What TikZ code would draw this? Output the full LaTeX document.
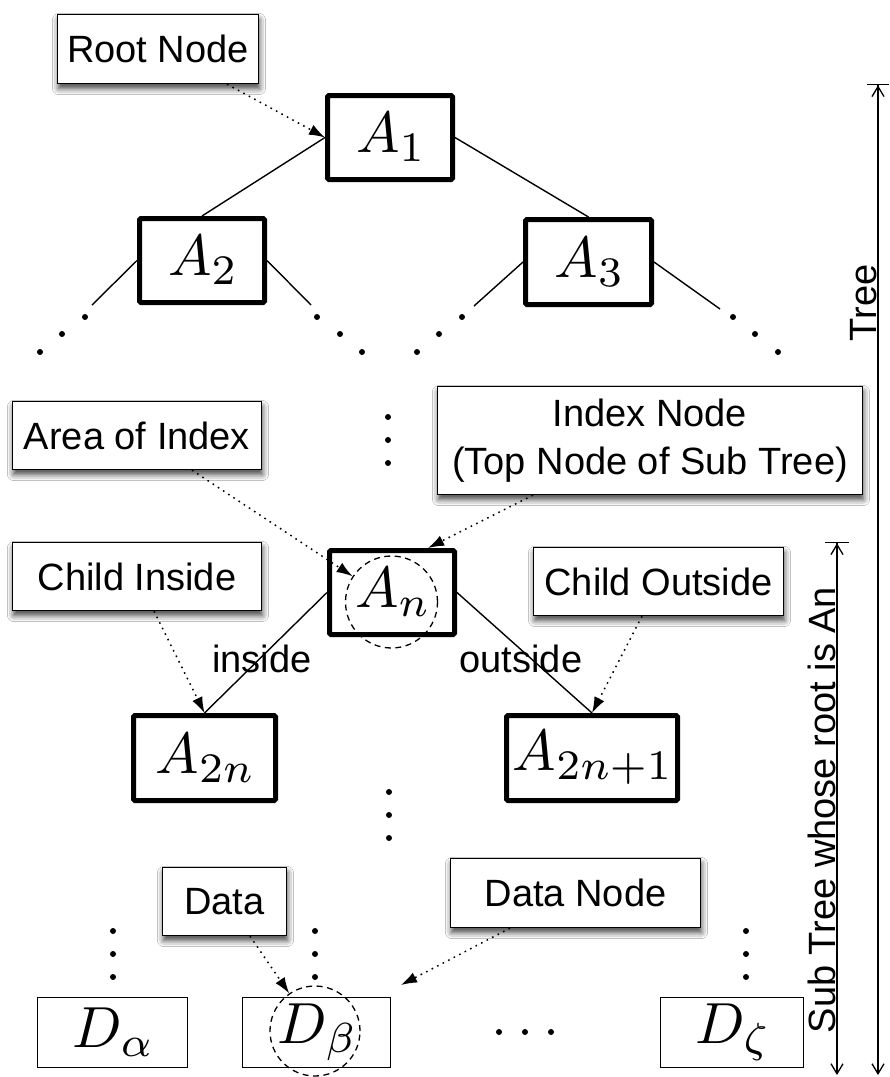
\RequirePackage{fix-cm}
\documentclass[tikz,border=0pt]{standalone}
\usepackage[no-math]{fontspec}
\newfontfamily\labfont{Liberation Sans}
\DeclareFontShape{OML}{cmm}{m}{it}{<-50> cmmi7 <50-> cmmi10}{}
\DeclareFontShape{OT1}{cmr}{m}{n}{<-50> cmr7 <50-> cmr10}{}
\DeclareFontShape{OMS}{cmsy}{m}{n}{<-50> cmsy7 <50-> cmsy10}{}
\DeclareMathSizes{58}{58}{42}{30}
\usetikzlibrary{arrows.meta,shadows.blur}
\begin{document}
\begin{tikzpicture}[x=1pt,y=-1pt,
  abox/.style={draw, line width=5pt, rounded corners=1.5pt, inner sep=0pt, font=\fontsize{58}{60}\selectfont},
  lbox/.style={draw, line width=1.3pt, fill=white, inner sep=0pt, font=\labfont\fontsize{38}{48}\selectfont,
    blur shadow={shadow xshift=1pt, shadow yshift=-5pt, shadow blur radius=6pt, shadow opacity=75}},
  dbox/.style={draw, line width=1.3pt, inner sep=0pt, font=\fontsize{58}{60}\selectfont},
  treeline/.style={line width=1.4pt},
  pointer/.style={line width=1.5pt, dash pattern=on 1.6pt off 4.6pt, -{Latex[length=16pt,width=11pt]}},
  ring/.style={circle, draw, line width=1.3pt, dash pattern=on 6pt off 4.5pt, inner sep=0pt},
  dimline/.style={line width=1.3pt},
  lab/.style={font=\labfont\fontsize{38}{48}\selectfont, inner sep=0pt},
]
\useasboundingbox[fill=white] (0,0) rectangle (890,1077);

% tree nodes
\node[abox, minimum width=125pt, minimum height=84pt] (A1) at (390,137.5) {$A_1$};
\node[abox, minimum width=125pt, minimum height=84pt] (A2) at (202,260.5) {$A_2$};
\node[abox, minimum width=126pt, minimum height=85pt] (A3) at (588.5,262) {$A_3$};
\node[abox, minimum width=125pt, minimum height=84pt] (An) at (392,592.5) {$A_n$};
\node[abox, minimum width=142pt, minimum height=85pt] (A2n) at (204.5,758) {$A_{2n}$};
\node[abox, minimum width=171pt, minimum height=85pt] (A2n1) at (592,758) {$A_{2n+1}$};

% data nodes
\node[dbox, minimum width=150pt, minimum height=70pt] (Da) at (112.5,1032.5) {$D_\alpha$};
\node[dbox, minimum width=148pt, minimum height=70pt] (Db) at (316.5,1032.5) {$D_\beta$};
\node[dbox, minimum width=143pt, minimum height=70pt] (Dz) at (732,1032.5) {$D_\zeta$};

% label boxes
\node[lbox, minimum width=201pt, minimum height=69pt] (Root) at (158,49) {Root Node};
\node[lbox, minimum width=249pt, minimum height=68pt] (Area) at (137,435.5) {Area of Index};
\node[lbox, minimum width=425pt, minimum height=108pt, align=center] (Idx) at (650,440.5) {Index Node\\(Top Node of Sub Tree)};
\node[lbox, minimum width=249pt, minimum height=68pt] (CIn) at (137,576.5) {Child Inside};
\node[lbox, minimum width=250pt, minimum height=68pt] (COut) at (658.5,581.5) {Child Outside};
\node[lbox, minimum width=124pt, minimum height=68pt] (Data) at (224.5,901.5) {Data};
\node[lbox, minimum width=250pt, minimum height=69pt] (DNode) at (575.5,893) {Data Node};

% dashed rings
\node[ring, minimum size=92pt] (Cn) at (391.5,602) {};
\node[ring, minimum size=90pt] (Cb) at (315,1031) {};

% tree edges
\draw[treeline] (A1.west) -- (A2.north);
\draw[treeline] (A1.east) -- (A3.north);
\coordinate (a2l) at (92,305);
\coordinate (a2r) at (311,305);
\coordinate (a3l) at (474,306);
\coordinate (a3r) at (720,309);
\draw[treeline] (A2.west) -- (a2l);
\draw[treeline] (A2.east) -- (a2r);
\draw[treeline] (A3.west) -- (a3l);
\draw[treeline] (A3.east) -- (a3r);
\draw[treeline] (An.west) -- (A2n.north);
\draw[treeline] (An.east) -- (A2n1.north);

\node[lab, anchor=base] (ins) at (262,672) {inside};
\node[lab, anchor=base] (outs) at (521,672) {outside};

% dots
\foreach \p in {(85,317),(62,334),(40,352),
                (317,317),(340,334),(362,352),
                (462,317),(439,334),(417,352),
                (733,317),(755,334),(778,352),
                (388,417),(388,440),(388,463),
                (389,792),(389,815),(389,838),
                (113,931),(113,954),(113,977),
                (315,931),(315,954),(315,977),
                (746,931),(746,954),(746,977),
                (499,1032),(525,1032),(551,1032)}
  \fill \p circle (3pt);

% pointers
\draw[pointer] ([xshift=69pt]Root.south) -- (A1.west);
\draw[pointer] ([xshift=55pt]Area.south) -- (Cn);
\draw[pointer] ([xshift=-117pt]Idx.south) -- ([xshift=36pt]An.north);
\draw[pointer] ([xshift=17pt]CIn.south) -- (A2n.north);
\draw[pointer] ([xshift=-16.5pt]COut.south) -- (A2n1.north);
\draw[pointer] ([xshift=25.5pt]Data.south) -- (Cb);
\coordinate (dbtip) at (401,985);
\draw[pointer] ([xshift=-65.5pt]DNode.south) -- (dbtip);

% dimension arrows
\coordinate (Ttop) at (878,84);
\coordinate (Tbot) at (878,1075);
\coordinate (Stop) at (837,542);
\coordinate (Sbot) at (837,1075);
\draw[dimline, {Bar[width=22pt]Straight Barb[length=10pt,width=12pt]}-{Straight Barb[length=10pt,width=12pt]}] (Ttop) -- (Tbot);
\draw[dimline, {Bar[width=24pt]Straight Barb[length=10pt,width=12pt]}-{Straight Barb[length=10pt,width=12pt]}] (Stop) -- (Sbot);
\node[lab, rotate=90, anchor=base] (Tl) at (876,303) {Tree};
\node[lab, rotate=90, anchor=base] (Sl) at (835,810) {Sub Tree whose root is An};
\end{tikzpicture}
\end{document}
